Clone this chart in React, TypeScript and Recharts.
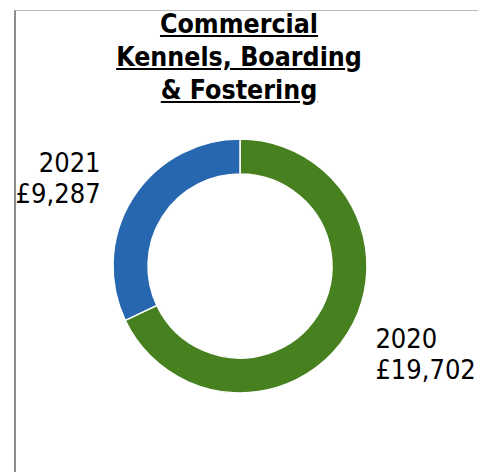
import React from 'react';
import { PieChart, Pie, Cell } from 'recharts';

const years = ['2020', '2021'];
const amounts = [19702, 9287];
const colours = ['#47801F', '#2767B0'];

const data = years.map((year, i) => ({ name: year, value: amounts[i] }));

const RADIAN = Math.PI / 180;
const FONT = '"DejaVu Sans Condensed", "DejaVu Sans", sans-serif';

const renderLabel = (props: any) => {
  const { cx, cy, midAngle, outerRadius, name, value } = props;
  const r = outerRadius + 38;
  const x = cx + r * Math.cos(-midAngle * RADIAN);
  const y = cy + r * Math.sin(-midAngle * RADIAN);
  const anchor = x > cx ? 'start' : 'end';
  return (
    <text x={anchor === 'start' ? x - 4 : x} y={y} textAnchor={anchor} fill="#000" fontFamily={FONT} fontSize={27}>
      <tspan x={anchor === 'start' ? x - 4 : x} dy={-6}>{name}</tspan>
      <tspan x={anchor === 'start' ? x - 4 : x} dy={31}>{'£' + value.toLocaleString('en-GB')}</tspan>
    </text>
  );
};

export default function App() {
  return (
    <div style={{ position: 'absolute', left: 0, top: 0, width: 478, height: 472, background: '#fff', overflow: 'hidden' }}>
      {/* chart frame */}
      <div
        style={{
          position: 'absolute',
          left: 14,
          top: 10,
          width: 462,
          height: 470,
          borderTop: '1px solid #BBBBBB',
          borderLeft: '2px solid #8C8C8C',
          borderRight: '1px solid #D9D9D9',
        }}
      />
      <div
        style={{
          position: 'absolute',
          left: 0,
          top: 7,
          width: 478,
          textAlign: 'center',
          fontFamily: FONT,
          fontWeight: 'bold',
          fontSize: 26.5,
          lineHeight: '33px',
          textDecoration: 'underline',
          color: '#000',
        }}
      >
        Commercial
        <br />
        Kennels, Boarding
        <br />
        &amp; Fostering
      </div>
      <div style={{ position: 'absolute', left: 0, top: 0 }}>
        <PieChart width={478} height={472} margin={{ top: 0, right: 0, bottom: 0, left: 0 }}>
          <Pie
            data={data}
            dataKey="value"
            nameKey="name"
            cx={240}
            cy={266}
            innerRadius={92}
            outerRadius={127}
            startAngle={90}
            endAngle={-270}
            stroke="#FFFFFF"
            strokeWidth={1.5}
            label={renderLabel}
            labelLine={false}
            isAnimationActive={false}
          >
            {data.map((d, i) => (
              <Cell key={d.name} fill={colours[i]} />
            ))}
          </Pie>
        </PieChart>
      </div>
    </div>
  );
}
